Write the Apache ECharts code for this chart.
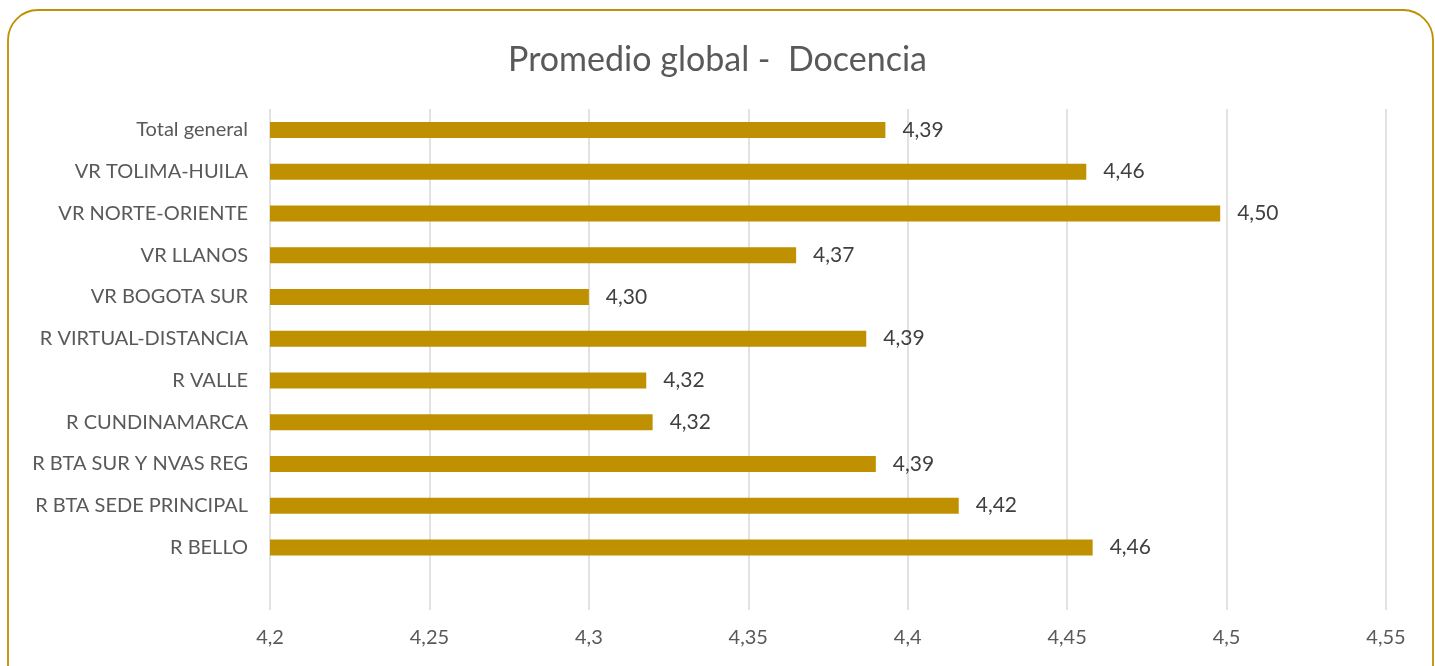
<!DOCTYPE html>
<html><head><meta charset="utf-8">
<script src="https://cdn.jsdelivr.net/npm/echarts@6/dist/echarts.min.js"></script>
<style>html,body{margin:0;padding:0;background:#fff}#c{width:1435px;height:666px}</style>
</head><body><div id="c"></div>
<script>
const categories = ['', 'R BELLO', 'R BTA SEDE PRINCIPAL', 'R BTA SUR Y NVAS REG', 'R CUNDINAMARCA', 'R VALLE', 'R VIRTUAL-DISTANCIA', 'VR BOGOTA SUR', 'VR LLANOS', 'VR NORTE-ORIENTE', 'VR TOLIMA-HUILA', 'Total general'];
const values = [null, 4.458, 4.416, 4.390, 4.320, 4.318, 4.387, 4.300, 4.365, 4.498, 4.456, 4.393];
const axisMin = 4.2, axisMax = 4.55, axisStep = 0.05;
const fmtAxis = v => String(+v.toFixed(2)).replace('.', ',');
const fmtLabel = v => v.toFixed(2).replace('.', ',');
const chart = echarts.init(document.getElementById('c'));
chart.setOption({
  animation: false,
  title: { text: 'Promedio global -  Docencia', left: 'center', top: 38,
    textStyle: { fontFamily: 'Lato', fontSize: 34, fontWeight: 'normal', color: '#595959' } },
  graphic: [{ type: 'rect', shape: { x: 8, y: 10, width: 1425, height: 720, r: 30 },
    style: { fill: 'none', stroke: '#BF9000', lineWidth: 1.8 }, silent: true }],
  grid: { left: 270, right: 49, top: 109, bottom: 56, containLabel: false },
  xAxis: { type: 'value', min: axisMin, max: axisMax, interval: axisStep,
    axisLine: { show: false }, axisTick: { show: false },
    splitLine: { lineStyle: { color: '#D9D9D9', width: 1.5 } },
    axisLabel: { formatter: v => fmtAxis(v), color: '#595959', fontFamily: 'Lato', fontSize: 20, margin: 18 } },
  yAxis: { type: 'category', data: categories,
    axisLine: { show: false }, axisTick: { show: false },
    axisLabel: { color: '#595959', fontFamily: 'Lato', fontSize: 20, margin: 22 } },
  series: [{ type: 'bar', data: values, barWidth: 16,
    itemStyle: { color: '#BF9000' },
    label: { show: true, position: 'right', distance: 17, color: '#404040', fontFamily: 'Lato', fontSize: 21,
      formatter: p => p.value == null ? '' : fmtLabel(p.value) } }]
});
</script></body></html>
